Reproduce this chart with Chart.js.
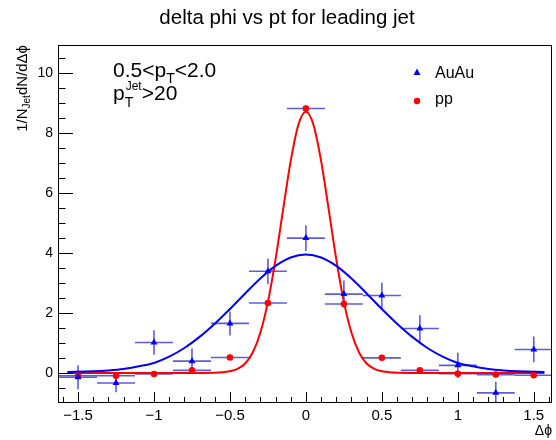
<!DOCTYPE html>
<html>
<head>
<meta charset="utf-8">
<script src="https://cdn.jsdelivr.net/npm/chart.js@4.4.0/dist/chart.umd.min.js"></script>
<style>
  html, body { margin: 0; padding: 0; background: #fff; }
</style>
</head>
<body>
<canvas id="dphiChart" width="556" height="440"></canvas>
<script>
// bin centres in delta phi, and half bin width (x error)
const phiBins = [-1.5, -1.25, -1, -0.75, -0.5, -0.25, 0, 0.25, 0.5, 0.75, 1, 1.25, 1.5];
const binHalfWidth = 0.125;

// AuAu points (blue triangles)
const auauY   = [-0.15, -0.34, 1.01, 0.39, 1.65, 3.39, 4.5, 2.63, 2.58, 1.48, 0.25, -0.67, 0.78];
const auauErr = [0.4, 0.31, 0.41, 0.42, 0.4, 0.43, 0.43, 0.45, 0.43, 0.44, 0.42, 0.37, 0.43];

// pp points (red circles)
const ppY   = [-0.1, -0.1, -0.04, 0.08, 0.51, 2.33, 8.83, 2.3, 0.5, 0.08, -0.03, -0.06, -0.08];
const ppErr = [0.06, 0.06, 0.06, 0.06, 0.06, 0.08, 0.1, 0.08, 0.06, 0.06, 0.06, 0.06, 0.06];

// fit curves
const auauFitX = [-1.57, -1.4, -1.3, -1.2, -1.1, -1.0, -0.9, -0.8, -0.7, -0.6, -0.5, -0.4, -0.3, -0.2, -0.1, 0,
                  0.1, 0.2, 0.3, 0.4, 0.5, 0.6, 0.7, 0.8, 0.9, 1.0, 1.1, 1.2, 1.3, 1.4, 1.57];
const auauFitY = [0.03, 0.05, 0.08, 0.13, 0.22, 0.33, 0.54, 0.83, 1.2, 1.64, 2.13, 2.65, 3.15, 3.57, 3.85, 3.95,
                  3.85, 3.57, 3.15, 2.65, 2.13, 1.64, 1.2, 0.83, 0.54, 0.33, 0.22, 0.13, 0.08, 0.05, 0.03];

const ppFitX = [-1.57, -1.0, -0.6, -0.5, -0.45, -0.4, -0.35, -0.3, -0.25, -0.2, -0.15, -0.1, -0.05, 0,
                0.05, 0.1, 0.15, 0.2, 0.25, 0.3, 0.35, 0.4, 0.45, 0.5, 0.6, 1.0, 1.57];
const ppFitY = [-0.01, -0.01, 0.0, 0.05, 0.13, 0.31, 0.68, 1.34, 2.37, 3.79, 5.46, 7.08, 8.28, 8.72,
                8.28, 7.08, 5.46, 3.79, 2.37, 1.34, 0.68, 0.31, 0.13, 0.05, 0.0, -0.01, -0.01];

const xTicks = [-1.5, -1, -0.5, 0, 0.5, 1, 1.5];
const yTicks = [0, 2, 4, 6, 8, 10];

const FONT = '"Liberation Sans", Arial, Helvetica, sans-serif';
const BAR_COLOR = "rgba(30, 30, 205, 0.72)";

function toPoints(xs, ys) {
    return xs.map((x, i) => ({ x: x, y: ys[i] }));
}

// draws a run of text pieces, each with its own size and vertical shift
function drawPieces(ctx, x, y, pieces) {
    let cx = x;
    pieces.forEach(p => {
        ctx.font = p.size + "px " + FONT;
        ctx.fillText(p.t, cx, y + (p.dy || 0));
        cx += ctx.measureText(p.t).width;
    });
    return cx;
}

function piecesWidth(ctx, pieces) {
    let w = 0;
    pieces.forEach(p => {
        ctx.font = p.size + "px " + FONT;
        w += ctx.measureText(p.t).width;
    });
    return w;
}

function drawErrorBars(ctx, x, y, ys, errs) {
    ctx.strokeStyle = BAR_COLOR;
    ctx.lineWidth = 1.6;
    phiBins.forEach((phi, i) => {
        const px = x.getPixelForValue(phi);
        const py = y.getPixelForValue(ys[i]);
        ctx.beginPath();
        ctx.moveTo(x.getPixelForValue(phi - binHalfWidth), py);
        ctx.lineTo(x.getPixelForValue(phi + binHalfWidth), py);
        ctx.moveTo(px, y.getPixelForValue(ys[i] - errs[i]));
        ctx.lineTo(px, y.getPixelForValue(ys[i] + errs[i]));
        ctx.stroke();
    });
}

const rootStyle = {
    id: "rootStyle",
    beforeDatasetsDraw(chart) {
        const { ctx, chartArea: a, scales: { x, y } } = chart;
        ctx.save();
        ctx.beginPath();
        ctx.rect(a.left, a.top, a.right - a.left, a.bottom - a.top);
        ctx.clip();
        drawErrorBars(ctx, x, y, auauY, auauErr);
        drawErrorBars(ctx, x, y, ppY, ppErr);
        ctx.restore();
    },
    afterDraw(chart) {
        const { ctx, chartArea: a, scales: { x, y } } = chart;
        ctx.save();

        // frame
        ctx.strokeStyle = "#000";
        ctx.lineWidth = 1;
        ctx.strokeRect(Math.round(a.left) + 0.5, Math.round(a.top) + 0.5,
                       Math.round(a.right - a.left) - 1, Math.round(a.bottom - a.top));

        // ticks inside the frame, ROOT style
        ctx.beginPath();
        for (let k = -16; k <= 16; k++) {
            const v = k / 10;
            const px = Math.round(x.getPixelForValue(v)) + 0.5;
            if (px < a.left || px > a.right) continue;
            const len = (k % 5 === 0) ? 10 : 5;
            ctx.moveTo(px, a.bottom);
            ctx.lineTo(px, a.bottom - len);
        }
        for (let k = -2; k <= 22; k++) {
            const v = k / 2;
            const py = Math.round(y.getPixelForValue(v)) + 0.5;
            if (py < a.top || py > a.bottom) continue;
            const len = (k % 4 === 0) ? 15 : 7.5;
            ctx.moveTo(a.left, py);
            ctx.lineTo(a.left + len, py);
        }
        ctx.stroke();

        ctx.fillStyle = "#000";
        ctx.textBaseline = "alphabetic";

        // title
        ctx.font = "20.5px " + FONT;
        ctx.textAlign = "center";
        ctx.fillText("delta phi vs pt for leading jet", 287, 24);
        ctx.textAlign = "left";

        // x axis title
        ctx.font = "14px " + FONT;
        ctx.textAlign = "right";
        ctx.fillText("\u0394\u03d5", a.right, 435);
        ctx.textAlign = "left";

        // y axis title, rotated, ending at the top of the frame
        const yTitle = [
            { t: "1/N", size: 15 },
            { t: "Jet", size: 10, dy: 3 },
            { t: "dN/d\u0394\u03d5", size: 15 }
        ];
        const yw = piecesWidth(ctx, yTitle);
        ctx.save();
        ctx.translate(27, a.top);
        ctx.rotate(-Math.PI / 2);
        drawPieces(ctx, -yw, 0, yTitle);
        ctx.restore();

        // annotation
        let cx = drawPieces(ctx, 113, 77, [{ t: "0.5<p", size: 21 }]);
        cx = drawPieces(ctx, cx, 77, [{ t: "T", size: 14, dy: 6 }]);
        drawPieces(ctx, cx, 77, [{ t: "<2.0", size: 21 }]);
        cx = drawPieces(ctx, 113, 100, [{ t: "p", size: 21 }]);
        const tEnd = drawPieces(ctx, cx, 100, [{ t: "T", size: 14, dy: 7 }]);
        const jEnd = drawPieces(ctx, cx + 1, 100, [{ t: "Jet", size: 12, dy: -10 }]);
        drawPieces(ctx, Math.max(tEnd, jEnd), 100, [{ t: ">20", size: 21 }]);

        // legend
        ctx.fillStyle = "#0000ff";
        ctx.beginPath();
        ctx.moveTo(417, 68.5);
        ctx.lineTo(420.5, 75);
        ctx.lineTo(413.5, 75);
        ctx.closePath();
        ctx.fill();
        ctx.fillStyle = "#ff0000";
        ctx.beginPath();
        ctx.arc(417, 101, 3.2, 0, Math.PI * 2);
        ctx.fill();
        ctx.fillStyle = "#000";
        ctx.font = "16px " + FONT;
        ctx.fillText("AuAu", 435, 78);
        ctx.fillText("pp", 435, 104);

        ctx.restore();
    }
};

new Chart(document.getElementById("dphiChart"), {
    type: "scatter",
    data: {
        datasets: [
            {
                label: "AuAu",
                data: toPoints(phiBins, auauY),
                pointStyle: "triangle",
                pointRadius: 4,
                backgroundColor: "#0000ff",
                borderColor: "#0000ff",
                borderWidth: 0,
                order: 0
            },
            {
                label: "pp",
                data: toPoints(phiBins, ppY),
                pointStyle: "circle",
                pointRadius: 3.3,
                backgroundColor: "#ff0000",
                borderColor: "#ff0000",
                borderWidth: 0,
                order: 0
            },
            {
                type: "line",
                label: "AuAu fit",
                data: toPoints(auauFitX, auauFitY),
                borderColor: "#0000ff",
                borderWidth: 2,
                pointRadius: 0,
                cubicInterpolationMode: "monotone",
                fill: false,
                order: 1
            },
            {
                type: "line",
                label: "pp fit",
                data: toPoints(ppFitX, ppFitY),
                borderColor: "#ff0000",
                borderWidth: 2,
                pointRadius: 0,
                cubicInterpolationMode: "monotone",
                fill: false,
                order: 1
            }
        ]
    },
    options: {
        responsive: false,
        animation: false,
        events: [],
        layout: { padding: { top: 45, right: 3, left: 0, bottom: 0 } },
        plugins: {
            legend: { display: false },
            title: { display: false },
            tooltip: { enabled: false }
        },
        scales: {
            x: {
                type: "linear",
                min: -1.632,
                max: 1.62,
                grid: { display: false, drawTicks: false },
                border: { display: false },
                afterBuildTicks: axis => { axis.ticks = xTicks.map(v => ({ value: v })); },
                afterFit: axis => { axis.height = 38; },
                ticks: {
                    color: "#000",
                    padding: 5,
                    maxRotation: 0,
                    autoSkip: false,
                    font: { family: FONT, size: 15 },
                    callback: v => String(v).replace("-", "\u2212")
                }
            },
            y: {
                type: "linear",
                min: -0.975,
                max: 10.95,
                grid: { display: false, drawTicks: false },
                border: { display: false },
                afterBuildTicks: axis => { axis.ticks = yTicks.map(v => ({ value: v })); },
                afterFit: axis => { axis.width = 58; },
                ticks: {
                    color: "#000",
                    padding: 5,
                    font: { family: FONT, size: 14 }
                }
            }
        }
    },
    plugins: [rootStyle]
});
</script>
</body>
</html>
